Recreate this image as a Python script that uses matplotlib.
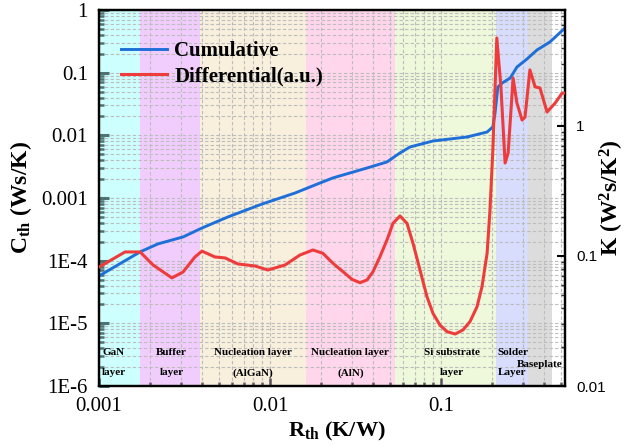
import matplotlib
matplotlib.use("Agg")
import matplotlib.pyplot as plt
from matplotlib.ticker import FixedLocator, LogLocator, NullFormatter, FixedFormatter
from matplotlib.lines import Line2D

plt.rcParams['font.family'] = ['Liberation Serif', 'DejaVu Serif']
plt.rcParams['mathtext.fontset'] = 'custom'
plt.rcParams['mathtext.rm'] = 'Liberation Serif'
plt.rcParams['mathtext.bf'] = 'Liberation Serif:bold'
plt.rcParams['mathtext.it'] = 'Liberation Serif:italic'

# Cumulative structure function: R_th (K/W) vs C_th (Ws/K)
cum_r = [0.001, 0.00174, 0.00221, 0.0031, 0.0040, 0.00567, 0.00897, 0.0140, 0.0183,
         0.0233, 0.0369, 0.0483, 0.0575, 0.0659, 0.0897, 0.142, 0.186, 0.201, 0.207,
         0.215, 0.228, 0.254, 0.278, 0.318, 0.364, 0.433, 0.531]
cum_c = [5.7e-5, 1.38e-4, 1.85e-4, 2.39e-4, 3.32e-4, 4.98e-4, 8.0e-4, 1.20e-3, 1.61e-3,
         2.09e-3, 3.01e-3, 3.76e-3, 5.23e-3, 6.52e-3, 8.12e-3, 9.41e-3, 0.0113, 0.0136, 0.0227,
         0.059, 0.0684, 0.0822, 0.123, 0.165, 0.230, 0.308, 0.516]

# Differential structure function: R_th (K/W) vs K (W^2 s/K^2)
diff_r = [0.001, 0.00142, 0.00174, 0.00207, 0.00267, 0.0031, 0.00364, 0.0040, 0.00476,
          0.00546, 0.0065, 0.00816, 0.00973, 0.01225, 0.01498, 0.01784, 0.0204, 0.02336,
          0.02673, 0.03017, 0.0336, 0.03693, 0.04002, 0.04398, 0.04832, 0.05239, 0.05756,
          0.06325, 0.06859, 0.07537, 0.0828, 0.08978, 0.0986, 0.1084, 0.121, 0.1345,
          0.1478, 0.1624, 0.1737, 0.186, 0.1934, 0.201, 0.212, 0.224, 0.237, 0.247,
          0.264, 0.278, 0.298, 0.310, 0.331, 0.355, 0.379, 0.417, 0.465, 0.511, 0.531]
diff_k = [0.0822, 0.1074, 0.1074, 0.0853, 0.0678, 0.0753, 0.0983, 0.109, 0.0983,
          0.0966, 0.0868, 0.0838, 0.078, 0.0853, 0.1018, 0.1112, 0.1048, 0.0878,
          0.0757, 0.0661, 0.0623, 0.0654, 0.0757, 0.0989, 0.1328, 0.1784, 0.2031,
          0.1784, 0.1252, 0.0780, 0.0486, 0.0362, 0.0294, 0.0262, 0.0251, 0.0270,
          0.0313, 0.0407, 0.0581, 0.1048, 0.2259, 0.653, 4.75, 2.0, 0.519, 0.62,
          2.34, 1.50, 1.11, 1.17, 2.70, 2.0, 1.96, 1.28, 1.50, 1.79, 1.79]

# Layer regions along the R_th axis
layer_edges = [0.001, 0.00174, 0.0039, 0.0163, 0.0538, 0.210, 0.323, 0.446]
layer_colors = ['#ccfffd', '#f1cdfd', '#f8efdd', '#ffd6ec', '#eef8da', '#d8dcfd', '#dcdcdc']
layer_names = [('GaN', 'layer'), ('Buffer', 'layer'), ('Nucleation layer', '(AlGaN)'),
               ('Nucleation layer', '(AlN)'), ('Si substrate', 'layer'),
               ('Solder', 'Layer'), ('Baseplate', None)]
layer_label_x = [0.00122, 0.00265, 0.0079, 0.0295, 0.116, 0.262, 0.378]

x_ticks = [0.001, 0.01, 0.1]
x_tick_labels = ['0.001', '0.01', '0.1']
left_ticks = [1e-6, 1e-5, 1e-4, 1e-3, 1e-2, 1e-1, 1]
left_tick_labels = ['1E-6', '1E-5', '1E-4', '0.001', '0.01', '0.1', '1']
right_ticks = [0.01, 0.1, 1]
right_tick_labels = ['0.01', '0.1', '1']

W, H = 633, 446
fig = plt.figure(figsize=(W / 100, H / 100), dpi=100)
ax = fig.add_axes([99 / W, 60 / H, 466 / W, 376 / H])

ax.set_xscale('log')
ax.set_yscale('log')
ax.set_xlim(0.001, 0.531)
ax.set_ylim(1e-6, 1)

for i, c in enumerate(layer_colors):
    ax.axvspan(layer_edges[i], layer_edges[i + 1], color=c, lw=0, zorder=0)

ax.grid(True, which='both', axis='both', color='#bdbdbd', linestyle=(0, (3, 2)), lw=0.8, zorder=0.5)
ax.set_axisbelow(True)

blue = '#1f6fd8'
red = '#ee3b3b'
ax.plot(cum_r, cum_c, color=blue, lw=2.1, zorder=3)

ax.xaxis.set_major_locator(FixedLocator(x_ticks))
ax.xaxis.set_major_formatter(FixedFormatter(x_tick_labels))
ax.xaxis.set_minor_locator(LogLocator(base=10, subs=range(2, 10)))
ax.xaxis.set_minor_formatter(NullFormatter())
ax.yaxis.set_major_locator(FixedLocator(left_ticks))
ax.yaxis.set_major_formatter(FixedFormatter(left_tick_labels))
ax.yaxis.set_minor_locator(LogLocator(base=10, subs=range(2, 10)))
ax.yaxis.set_minor_formatter(NullFormatter())

ax.tick_params(axis='x', which='major', direction='in', length=6, width=1.8, color='#5a5060',
               labelsize=15, pad=8, top=False)
ax.tick_params(axis='x', which='minor', direction='in', length=3, width=1.8, color='#6a5a6a', top=False)
ax.tick_params(axis='y', which='major', direction='in', length=7, width=2.2, color='#4f7373',
               labelsize=15, pad=8, right=False)
ax.tick_params(axis='y', which='minor', direction='in', length=3.5, width=1.8, color='#4f7373', right=False)

for s in ax.spines.values():
    s.set_linewidth(1.6)
    s.set_color('black')

ax.set_xlabel(r'$\mathbf{R_{th}}$ (K/W)', fontsize=16, fontweight='bold')
ax.xaxis.set_label_coords(0.511, -0.09)
ax.set_ylabel(r'$\mathbf{C_{th}}$ (Ws/K)', fontsize=17, fontweight='bold')
ax.yaxis.set_label_coords(-0.139, 0.5)

for i, (l1, l2) in enumerate(layer_names):
    if l2 is None:
        ax.text(layer_label_x[i], 0.056, l1, transform=ax.get_xaxis_transform(),
                ha='center', va='center', fontsize=8, fontweight='bold', zorder=4)
    else:
        ax.text(layer_label_x[i], 0.088, l1, transform=ax.get_xaxis_transform(),
                ha='center', va='center', fontsize=8, fontweight='bold', zorder=4)
        ax.text(layer_label_x[i], 0.035, l2, transform=ax.get_xaxis_transform(),
                ha='center', va='center', fontsize=8, fontweight='bold', zorder=4)

ax2 = ax.twinx()
ax2.set_yscale('log')
ax2.set_ylim(0.01, 10 ** 0.892)
ax2.plot(diff_r, diff_k, color=red, lw=2.2, zorder=3)
ax2.yaxis.set_major_locator(FixedLocator(right_ticks))
ax2.yaxis.set_major_formatter(FixedFormatter(right_tick_labels))
ax2.yaxis.set_minor_locator(LogLocator(base=10, subs=range(2, 10)))
ax2.yaxis.set_minor_formatter(NullFormatter())
ax2.tick_params(axis='y', which='major', direction='in', length=6, width=1.5, color='black',
                labelsize=11, pad=8)
ax2.tick_params(axis='y', which='minor', direction='in', length=3, width=1.0, color='#333333')
for lbl in ax2.get_yticklabels():
    lbl.set_fontfamily('Liberation Sans')
for s in ax2.spines.values():
    s.set_linewidth(1.6)
ax2.set_ylabel(r'K (W$^\mathbf{2}$s/K$^\mathbf{2}$)', fontsize=17, fontweight='bold')
ax2.yaxis.set_label_coords(1.071, 0.5)

handles = [Line2D([], [], color=blue, lw=2.1), Line2D([], [], color=red, lw=2.2)]
ax2.legend(handles, ['Cumulative', 'Differential(a.u.)'], loc='upper left',
           bbox_to_anchor=(0.03, 0.94), frameon=False, handlelength=2.2,
           handletextpad=0.35, labelspacing=0.25, borderaxespad=0,
           prop={'family': 'Liberation Serif', 'weight': 'bold', 'size': 15})

fig.savefig('out.png', dpi=100)
